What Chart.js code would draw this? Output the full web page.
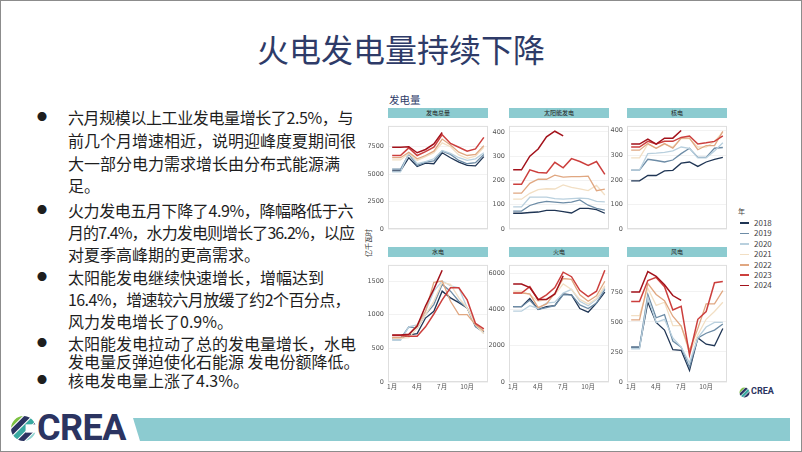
<!DOCTYPE html>
<html>
<head>
<meta charset="utf-8">
<script src="https://cdn.jsdelivr.net/npm/chart.js@4.4.1/dist/chart.umd.min.js"></script>
<style>
  body { margin: 0; background: #fff; }
  #slide { position: relative; width: 802px; height: 452px; overflow: hidden; background: #fff;
           font-family: "Noto Sans CJK SC", "Noto Sans", sans-serif; }
  #frame { position: absolute; left: 0; top: 0; width: 802px; height: 452px; box-sizing: border-box;
           border: 1px solid #8c8c8c; pointer-events: none; }
  .title { position: absolute; left: 0; width: 802px; top: 26px; text-align: center; font-size: 32px;
           color: #2e3b68; line-height: 44px; }
  .ln { position: absolute; left: 68px; font-size: 16px; line-height: 22px; height: 22px; color: #1e1e1e; white-space: nowrap; }
  .dot { position: absolute; left: 37px; font-size: 10px; line-height: 22px; height: 22px; color: #1e1e1e; }
  .strip { position: absolute; height: 10px; width: 100px; background: #8ccbd0; text-align: center;
           font-size: 6px; line-height: 10px; color: #222; }
  .panel { position: absolute; display: block; }
  #chartTitle { position: absolute; left: 389px; top: 92px; font-size: 10.5px; color: #2e3b68; }
  #yTitle { position: absolute; left: 346px; top: 238px; width: 44px; height: 10px; text-align: center;
            font-size: 7px; line-height: 10px; color: #333; white-space: nowrap;
            transform: rotate(-90deg); transform-origin: 50% 50%; }
  #legend { position: absolute; left: 738px; top: 206px; font-size: 8px; color: #444; }
  #legend .hd { font-size: 7px; height: 12px; }
  #legend .it { height: 10.4px; line-height: 10.4px; display: flex; align-items: center; }
  #legend .sw { width: 9px; height: 1.5px; margin: 0 5px 0 2px; }
  #bar { position: absolute; left: 133px; top: 418px; width: 657px; height: 23px; background: #8ccbd0;
         clip-path: polygon(0 0, 100% 0, 100% 100%, 7px 100%); }
  #crea { position: absolute; left: 37px; top: 409px; font-family: Roboto, sans-serif; font-weight: 700;
          font-size: 36px; line-height: 38px; color: #2b3461; letter-spacing: -0.5px; }
  #creaSmall { position: absolute; left: 751px; top: 386px; font-family: Roboto, sans-serif; font-weight: 700;
               font-size: 9px; color: #2b3461; }
</style>
</head>
<body>
<div id="slide">
  <div class="title">火电发电量持续下降</div>

  <div class="dot" style="top:106px">●</div>
  <div class="ln" style="top:106px" data-w="285">六月规模以上工业发电量增长了2.5%，与</div>
  <div class="ln" style="top:129px">前几个月增速相近，说明迎峰度夏期间很</div>
  <div class="ln" style="top:152px">大一部分电力需求增长由分布式能源满</div>
  <div class="ln" style="top:174px">足。</div>
  <div class="dot" style="top:199px">●</div>
  <div class="ln" style="top:199px" data-w="285">火力发电五月下降了4.9%，降幅略低于六</div>
  <div class="ln" style="top:221px" data-w="286">月的7.4%，水力发电则增长了36.2%，以应</div>
  <div class="ln" style="top:243px">对夏季高峰期的更高需求。</div>
  <div class="dot" style="top:266px">●</div>
  <div class="ln" style="top:266px">太阳能发电继续快速增长，增幅达到</div>
  <div class="ln" style="top:288px" data-w="282">16.4%，增速较六月放缓了约2个百分点，</div>
  <div class="ln" style="top:310px">风力发电增长了0.9%。</div>
  <div class="dot" style="top:332px">●</div>
  <div class="ln" style="top:332px">太阳能发电拉动了总的发电量增长，水电</div>
  <div class="ln" style="top:350px">发电量反弹迫使化石能源 发电份额降低。</div>
  <div class="dot" style="top:369px">●</div>
  <div class="ln" style="top:369px">核电发电量上涨了4.3%。</div>

  <div id="chartTitle">发电量</div>
  <div id="yTitle">亿千瓦时</div>
  <div id="panels"></div>
  <div id="legend"></div>

  <svg style="position:absolute;left:739px;top:387px" width="11" height="11" viewBox="0 0 24 24">
    <defs><clipPath id="cs"><circle cx="12" cy="12" r="11"/></clipPath></defs>
    <g clip-path="url(#cs)" transform="rotate(-45 12 12)">
      <rect x="-4" y="0" width="32" height="5" fill="#7cc142"/>
      <rect x="-4" y="6" width="32" height="5" fill="#2b3461"/>
      <rect x="-4" y="12" width="32" height="5" fill="#39a9a1"/>
      <rect x="-4" y="18" width="32" height="6" fill="#2b3461"/>
    </g>
  </svg>
  <div id="creaSmall">CREA</div>

  <svg style="position:absolute;left:11px;top:415px" width="25" height="27" viewBox="0 0 24 26">
    <defs><clipPath id="cb"><circle cx="12" cy="13" r="12"/></clipPath></defs>
    <g clip-path="url(#cb)" transform="rotate(-45 12 13)">
      <rect x="-6" y="-1" width="36" height="5" fill="#7cc142"/>
      <rect x="-6" y="5" width="36" height="5" fill="#2b3461"/>
      <rect x="-6" y="11" width="36" height="5" fill="#39a9a1"/>
      <rect x="-6" y="17" width="36" height="5" fill="#2b3461"/>
      <rect x="-6" y="23" width="36" height="5" fill="#8fd3cf"/>
    </g>
    <rect x="14" y="9" width="12" height="8" fill="#fff"/>
  </svg>
  <div id="crea">CREA</div>
  <div id="bar"></div>
  <div id="frame"></div>
</div>

<script>
// 月份与年份
const months = [1, 2, 3, 4, 5, 6, 7, 8, 9, 10, 11, 12];
const monthTicks = [1, 4, 7, 10];
const years = ['2018', '2019', '2020', '2021', '2022', '2023', '2024'];
const yearColors = ['#1f3554', '#6d8ca6', '#b9d0de', '#f2dfc4', '#e0a781', '#cc3f3d', '#a3121b'];

// 各面板数据（亿千瓦时），每行一年：2018 ... 2024
const totalGen = [
  [5300, 5300, 6500, 5700, 6000, 5950, 6950, 6500, 6100, 5800, 5750, 6600],
  [5450, 5450, 6850, 5800, 6100, 6200, 7100, 6800, 6250, 5950, 6050, 6800],
  [5200, 5200, 6950, 5950, 6150, 6400, 7150, 6900, 6500, 6250, 6400, 6950],
  [6300, 6300, 6900, 6250, 6600, 6950, 7850, 7500, 6750, 6450, 6650, 7450],
  [6500, 6500, 7000, 6400, 6700, 7100, 8200, 7650, 7000, 6700, 6800, 7600],
  [6700, 6700, 7400, 6700, 7050, 7450, 8600, 7800, 7450, 7100, 7300, 8350],
  [7450, 7450, 7500, 6950, 7250, 7750, 8800]
];
const solarGen = [
  [65, 65, 68, 70, 77, 77, 72, 66, 85, 85, 80, 65],
  [74, 74, 97, 108, 114, 111, 108, 111, 120, 98, 85, 78],
  [91, 91, 131, 131, 131, 125, 123, 125, 127, 125, 114, 112],
  [123, 123, 147, 162, 166, 165, 182, 172, 165, 158, 180, 140],
  [148, 148, 188, 205, 205, 222, 214, 216, 216, 218, 158, 164],
  [184, 184, 244, 233, 231, 275, 252, 290, 278, 262, 278, 225],
  [244, 244, 300, 330, 380, 403, 384]
];
const nuclearGen = [
  [196, 196, 218, 218, 237, 239, 268, 273, 255, 273, 284, 292],
  [240, 240, 284, 279, 273, 281, 307, 329, 292, 292, 329, 332],
  [240, 240, 307, 309, 312, 318, 334, 329, 290, 290, 318, 351],
  [290, 290, 346, 329, 346, 334, 368, 368, 334, 334, 357, 395],
  [321, 321, 348, 329, 348, 329, 370, 370, 323, 340, 340, 398],
  [334, 334, 357, 346, 357, 357, 373, 379, 346, 351, 357, 379],
  [346, 346, 366, 346, 370, 370, 401]
];
const hydroGen = [
  [650, 650, 700, 720, 950, 1050, 1350, 1250, 1180, 1100, 830, 740],
  [640, 640, 820, 800, 1000, 1150, 1450, 1350, 1200, 1100, 820, 740],
  [620, 620, 820, 850, 1050, 1350, 1500, 1430, 1400, 1100, 850, 720],
  [650, 650, 660, 800, 1000, 1200, 1480, 1450, 1250, 1100, 850, 720],
  [660, 660, 700, 850, 1050, 1480, 1500, 1200, 1000, 1000, 850, 760],
  [690, 690, 680, 680, 820, 1010, 1220, 1400, 1400, 1220, 870, 790],
  [700, 700, 710, 830, 1130, 1380, 1660]
];
const thermalGen = [
  [4150, 4150, 4600, 4000, 4150, 4200, 4850, 4800, 4050, 3850, 4350, 4950],
  [4150, 4150, 4500, 4000, 4100, 4200, 4800, 4800, 4250, 4050, 4350, 5100],
  [3900, 3900, 4200, 4050, 4350, 4400, 4900, 5100, 4450, 4200, 4550, 5200],
  [5000, 5000, 4800, 4450, 4550, 4800, 5400, 5100, 4550, 4300, 4600, 5300],
  [4900, 4900, 4850, 4100, 4300, 4900, 5700, 5650, 4800, 4450, 4750, 5550],
  [4900, 4900, 5250, 4520, 4800, 5200, 6050, 5800, 5050, 4700, 5000, 6150],
  [5400, 5400, 5200, 4550, 4550, 4850, 5850]
];
const windGen = [
  [290, 290, 664, 496, 432, 269, 264, 96, 367, 315, 302, 445],
  [290, 290, 729, 535, 561, 341, 290, 121, 367, 406, 432, 483],
  [277, 277, 703, 496, 522, 367, 290, 160, 367, 458, 496, 496],
  [553, 553, 780, 638, 664, 470, 470, 238, 393, 522, 587, 664],
  [517, 517, 820, 729, 677, 548, 465, 264, 445, 651, 651, 760],
  [670, 670, 845, 871, 793, 600, 630, 225, 522, 587, 827, 837],
  [750, 750, 920, 880, 810, 720, 680]
];

// 面板布局
const panels = [
  { title: '发电总量', rows: totalGen, max: 9400, step: 2500, left: 388, top: 118, xAxis: false },
  { title: '太阳能发电', rows: solarGen, max: 425, step: 100, left: 509, top: 118, xAxis: false },
  { title: '核电', rows: nuclearGen, max: 420, step: 100, left: 627, top: 118, xAxis: false },
  { title: '水电', rows: hydroGen, max: 1740, step: 500, left: 388, top: 257, xAxis: true },
  { title: '火电', rows: thermalGen, max: 6450, step: 2000, left: 509, top: 257, xAxis: true },
  { title: '风电', rows: windGen, max: 975, step: 250, left: 627, top: 257, xAxis: true }
];

const AXIS_W = 22, PLOT_W = 100, PLOT_H = 125;

// squeeze a few text lines to the width they have on the slide
document.querySelectorAll('.ln[data-w]').forEach((el) => {
  const n = el.textContent.length;
  const diff = Number(el.dataset.w) - el.getBoundingClientRect().width;
  el.style.letterSpacing = (diff / n) + 'px';
});

// frame plugin: light border around each panel
const frame = {
  id: 'frame',
  beforeDatasetsDraw(chart) {
    const { ctx, chartArea: { left, top, right, bottom } } = chart;
    ctx.save();
    ctx.strokeStyle = '#dedede';
    ctx.lineWidth = 1;
    ctx.strokeRect(left + 0.5, top + 0.5, right - left - 1, bottom - top - 1);
    ctx.restore();
  }
};

const holder = document.getElementById('panels');
panels.forEach((p) => {
  const strip = document.createElement('div');
  strip.className = 'strip';
  strip.style.left = p.left + 'px';
  strip.style.top = (p.top - 10) + 'px';
  strip.textContent = p.title;
  holder.appendChild(strip);

  const h = PLOT_H + (p.xAxis ? 14 : 5);
  const canvas = document.createElement('canvas');
  canvas.className = 'panel';
  canvas.width = AXIS_W + PLOT_W + 1;
  canvas.height = h;
  canvas.style.left = (p.left - AXIS_W) + 'px';
  canvas.style.top = p.top + 'px';
  holder.appendChild(canvas);

  new Chart(canvas, {
    type: 'line',
    data: {
      labels: months,
      datasets: p.rows.map((row, i) => ({
        label: years[i],
        data: row,
        borderColor: yearColors[i],
        borderWidth: i >= 5 ? 1.5 : 1.3,
        pointRadius: 0,
        tension: 0,
        order: years.length - i
      }))
    },
    options: {
      responsive: false,
      animation: false,
      layout: { padding: { top: 0, right: 1, bottom: p.xAxis ? 0 : 5, left: 0 } },
      plugins: { legend: { display: false }, tooltip: { enabled: false } },
      scales: {
        x: {
          type: 'linear',
          min: 0.5,
          max: 12.5,
          display: p.xAxis,
          grid: { display: false, drawTicks: false, tickLength: 0 },
          border: { display: false },
          afterBuildTicks: (scale) => { scale.ticks = monthTicks.map(v => ({ value: v })); },
          afterFit: (scale) => { scale.height = 14; },
          ticks: {
            padding: 1,
            font: { size: 6.5, family: 'Noto Sans CJK SC' },
            color: '#555',
            maxRotation: 0,
            callback: (v) => v + '月'
          }
        },
        y: {
          min: 0,
          max: p.max,
          grid: { color: '#ececec', lineWidth: 0.7, drawTicks: false },
          border: { display: false },
          afterFit: (scale) => { scale.width = AXIS_W; },
          afterBuildTicks: (scale) => {
            const t = [];
            for (let v = 0; v <= p.max; v += p.step) t.push({ value: v });
            scale.ticks = t;
          },
          ticks: {
            padding: 4,
            font: { size: 6.5, family: 'DejaVu Sans' },
            color: '#555',
            callback: (v) => String(v)
          }
        }
      }
    },
    plugins: [frame]
  });
});

// legend
const legend = document.getElementById('legend');
legend.innerHTML = '<div class="hd">年</div>' + years.map((y, i) =>
  `<div class="it"><span class="sw" style="background:${yearColors[i]}"></span>${y}</div>`).join('');
</script>
</body>
</html>
